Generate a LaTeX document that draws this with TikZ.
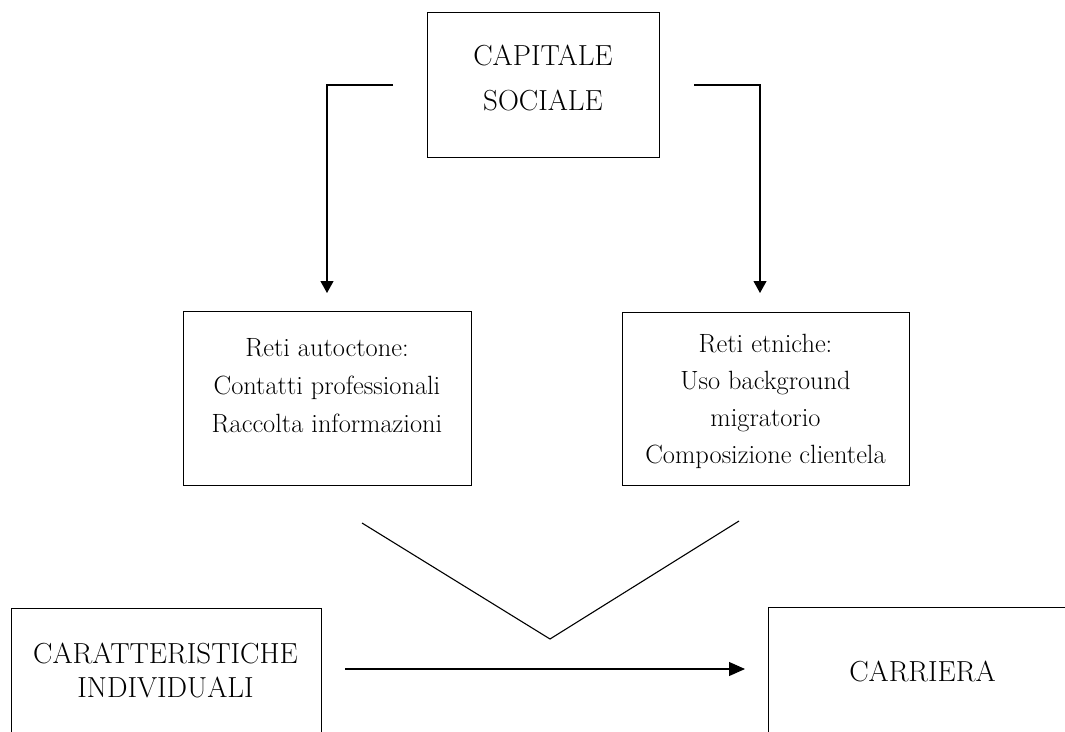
\documentclass[tikz,border=0pt]{standalone}
\usepackage{fontspec}
\usetikzlibrary{arrows.meta}
\begin{document}
\begin{tikzpicture}[x=1pt,y=-1pt,
  box/.style={draw, line width=1pt, inner sep=0pt, rectangle},
  capstext/.style={inner sep=0pt, align=center},
  smalltext/.style={inner sep=0pt, align=center},
  conn/.style={line width=1.1pt},
  arr/.style={line width=1.1pt, -{Triangle[length=12pt,width=13pt]}}
]
\useasboundingbox (0,0) rectangle (1065,731);
\clip (0,0) rectangle (1065,731);

% boxes
\node[box, minimum width=232pt, minimum height=145pt] (csbox) at (543,84.5) {};
\node[box, minimum width=288pt, minimum height=174pt] (rabox) at (327,398) {};
\node[box, minimum width=287pt, minimum height=173pt] (rebox) at (765.5,398.5) {};
\node[box, minimum width=310pt, minimum height=200pt, anchor=north west] (cibox) at (11,608) {};
\node[box, minimum width=400pt, minimum height=200pt, anchor=north west] (carbox) at (768,607) {};

% texts
\node[capstext, font=\fontsize{29}{45}\selectfont] (cs) at (543,77.6) {CAPITALE\\SOCIALE};
\node[smalltext, font=\fontsize{26.4}{38}\selectfont] (ra) at (327,386) {Reti autoctone:\\Contatti professionali\\Raccolta informazioni};
\node[smalltext, font=\fontsize{26.4}{37}\selectfont] (re) at (765.5,401) {Reti etniche:\\Uso background\\migratorio\\Composizione clientela};
\node[capstext, font=\fontsize{29}{34}\selectfont] (ci) at (165.5,670.1) {CARATTERISTICHE\\INDIVIDUALI};
\node[capstext, font=\fontsize{29}{34}\selectfont] (car) at (922.5,671.1) {CARRIERA};

% connectors
\coordinate (la) at (393,85);
\coordinate (lb) at (327,85);
\coordinate (lc) at (327,293);
\coordinate (ra0) at (694,85);
\coordinate (rb) at (760,85);
\coordinate (rc) at (760,293);
\draw[arr] (la) -- (lb) -- (lc);
\draw[arr] (ra0) -- (rb) -- (rc);

\coordinate (va) at (362,523);
\coordinate (vb) at (550,639);
\coordinate (vc) at (739,521);
\draw[conn] (va) -- (vb) -- (vc);

\coordinate (ha) at (345,669);
\coordinate (hb) at (745,669);
\draw[arr, -{Triangle[length=16pt,width=14pt]}] (ha) -- (hb);
\end{tikzpicture}
\end{document}
